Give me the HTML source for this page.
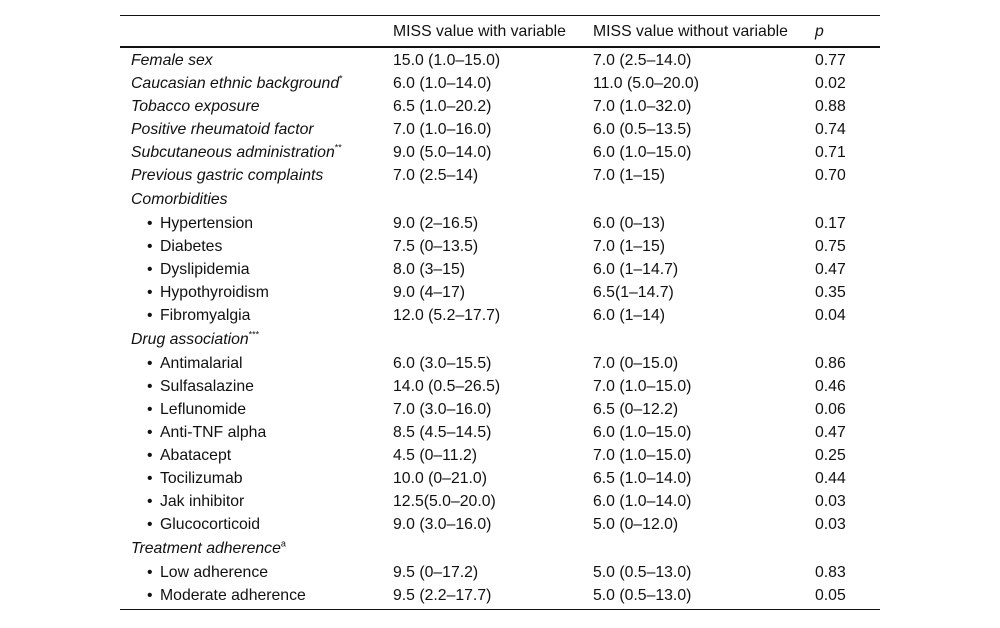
<!DOCTYPE html>
<html><head><meta charset="utf-8"><style>
body{margin:0;width:1000px;height:628px;background:#fff;font-family:"Liberation Sans",sans-serif;font-size:15.8px;color:#111;position:relative;overflow:hidden}
.ln{position:absolute;left:120px;width:760px;background:#111}
.r{position:absolute;left:0;width:1000px;height:20px;line-height:20px}
.r span{position:absolute;white-space:nowrap}
.c1{left:131px}.bl{left:147px}.c1b{left:160px}.c2{left:393px}.c3{left:593px}.c4{left:815px}
sup{font-size:9px;line-height:0}
</style></head><body>
<div class="ln" style="top:15px;height:1px"></div>
<div class="ln" style="top:46px;height:2px"></div>
<div class="ln" style="top:609px;height:1px"></div>
<div class="r" style="top:22px"><span class="c2">MISS value with variable</span><span class="c3">MISS value without variable</span><span class="c4"><i>p</i></span></div>
<div id="rows"></div>
<script>
const rows=[
["<i>Female sex</i>","15.0 (1.0–15.0)","7.0 (2.5–14.0)","0.77",0],
["<i>Caucasian ethnic background</i><sup>*</sup>","6.0 (1.0–14.0)","11.0 (5.0–20.0)","0.02",0],
["<i>Tobacco exposure</i>","6.5 (1.0–20.2)","7.0 (1.0–32.0)","0.88",0],
["<i>Positive rheumatoid factor</i>","7.0 (1.0–16.0)","6.0 (0.5–13.5)","0.74",0],
["<i>Subcutaneous administration</i><sup>**</sup>","9.0 (5.0–14.0)","6.0 (1.0–15.0)","0.71",0],
["<i>Previous gastric complaints</i>","7.0 (2.5–14)","7.0 (1–15)","0.70",0],
["<i>Comorbidities</i>","","","",0],
["Hypertension","9.0 (2–16.5)","6.0 (0–13)","0.17",1],
["Diabetes","7.5 (0–13.5)","7.0 (1–15)","0.75",1],
["Dyslipidemia","8.0 (3–15)","6.0 (1–14.7)","0.47",1],
["Hypothyroidism","9.0 (4–17)","6.5(1–14.7)","0.35",1],
["Fibromyalgia","12.0 (5.2–17.7)","6.0 (1–14)","0.04",1],
["<i>Drug association</i><sup>***</sup>","","","",0],
["Antimalarial","6.0 (3.0–15.5)","7.0 (0–15.0)","0.86",1],
["Sulfasalazine","14.0 (0.5–26.5)","7.0 (1.0–15.0)","0.46",1],
["Leflunomide","7.0 (3.0–16.0)","6.5 (0–12.2)","0.06",1],
["Anti-TNF alpha","8.5 (4.5–14.5)","6.0 (1.0–15.0)","0.47",1],
["Abatacept","4.5 (0–11.2)","7.0 (1.0–15.0)","0.25",1],
["Tocilizumab","10.0 (0–21.0)","6.5 (1.0–14.0)","0.44",1],
["Jak inhibitor","12.5(5.0–20.0)","6.0 (1.0–14.0)","0.03",1],
["Glucocorticoid","9.0 (3.0–16.0)","5.0 (0–12.0)","0.03",1],
["<i>Treatment adherence</i><sup>a</sup>","","","",0],
["Low adherence","9.5 (0–17.2)","5.0 (0.5–13.0)","0.83",1],
["Moderate adherence","9.5 (2.2–17.7)","5.0 (0.5–13.0)","0.05",1]];
const tops=[51,74,97,120,143,166,190,214,237,260,283,306,330,354,377,400,423,446,469,492,515,539,563,586];
const host=document.getElementById('rows');
rows.forEach((r,i)=>{
 const d=document.createElement('div');d.className='r';d.style.top=tops[i]+'px';
 
 
 d.innerHTML=(r[4]?'<span class="bl">•</span>':'')+`<span class="${r[4]?'c1b':'c1'}">${r[0]}</span><span class="c2">${r[1]}</span><span class="c3">${r[2]}</span><span class="c4">${r[3]}</span>`;
 host.appendChild(d);
});
</script>
</body></html>
